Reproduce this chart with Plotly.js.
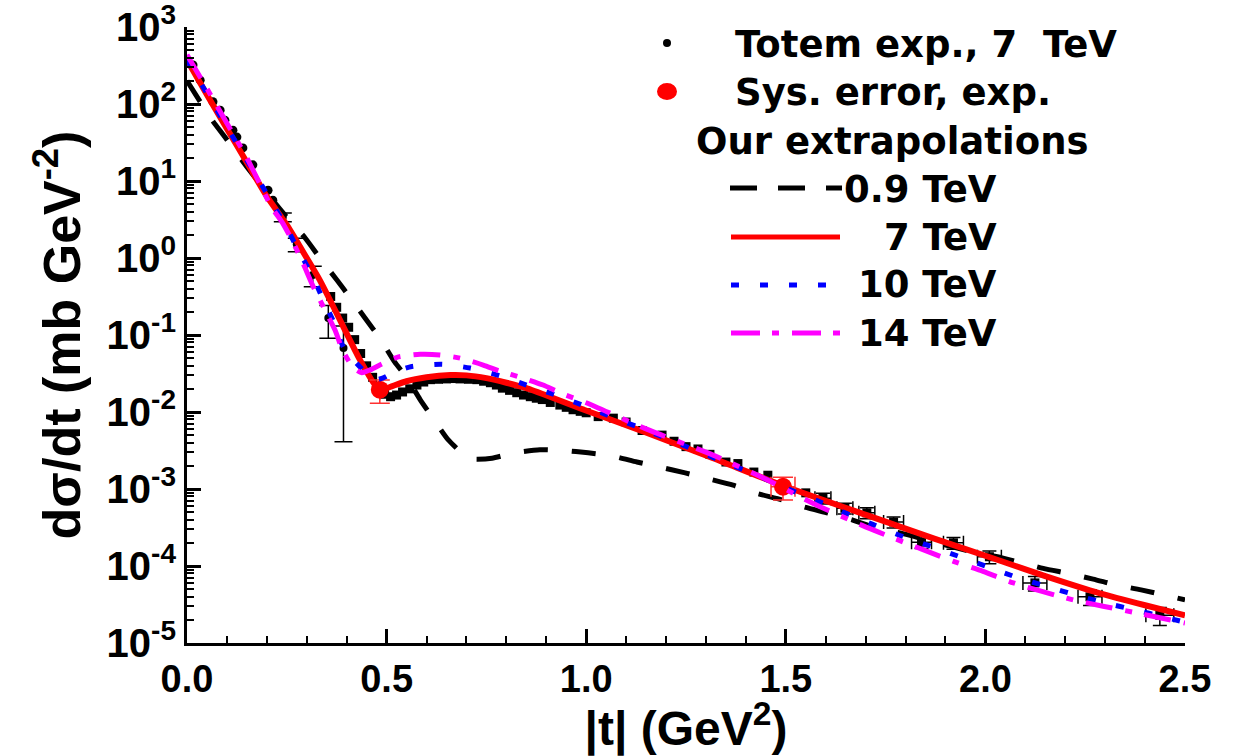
<!DOCTYPE html>
<html>
<head>
<meta charset="utf-8">
<script src="https://cdn.plot.ly/plotly-3.0.1.min.js"></script>
<style>html,body{margin:0;padding:0;background:#fff;}#chart{width:1253px;height:756px;}</style>
</head>
<body>
<div id="chart"></div>
<script>
// ---------- DATA ----------
// Curve "0.9 TeV" (black dashed)
const t09 = [0.0,0.063,0.095,0.133,0.17,0.215,0.25,0.296,0.333,0.376,0.408,0.45,0.483,0.52,0.55,0.584,0.616,0.654,0.70,0.72,0.764,0.82,0.884,0.943,1.005,1.065,1.127,1.18,1.248,1.30,1.368,1.423,1.49,1.543,1.61,1.666,1.73,1.786,1.97,2.03,2.09,2.145,2.21,2.27,2.33,2.39,2.45,2.5];
const y09 = [199.5,61.7,37.2,19.95,11.2,5.62,3.39,1.82,1.0,0.513,0.309,0.155,0.0912,0.0447,0.0282,0.0145,0.00832,0.00437,0.00263,0.00245,0.00251,0.00295,0.00324,0.00316,0.00295,0.00269,0.00224,0.00195,0.00162,0.00138,0.00112,8.91e-4,7.24e-4,5.89e-4,4.79e-4,3.98e-4,3.09e-4,2.69e-4,1.51e-4,1.32e-4,1.10e-4,9.33e-5,7.94e-5,6.76e-5,5.62e-5,4.90e-5,4.17e-5,3.63e-5];

// Curve "7 TeV" (red solid)
const t7 = [0.0,0.05,0.1,0.15,0.2,0.25,0.3,0.333,0.375,0.433,0.47,0.483,0.5,0.55,0.6,0.66,0.7,0.75,0.8,0.85,0.909,0.984,1.151,1.318,1.49,1.703,1.87,2.037,2.15,2.287,2.4,2.5];
const y7 = [371.5,131.8,47.9,17.4,6.31,2.69,1.0,0.513,0.191,0.0479,0.0229,0.0195,0.0204,0.0251,0.0282,0.0302,0.0299,0.0275,0.0240,0.0204,0.0158,0.0112,0.00537,0.00251,0.00112,4.57e-4,2.29e-4,1.17e-4,7.4e-5,4.42e-5,3.09e-5,2.29e-5];

// Curve "10 TeV" (blue dotted)
const t10 = [0.0,0.1,0.212,0.25,0.28,0.313,0.34,0.368,0.393,0.44,0.47,0.49,0.52,0.563,0.638,0.709,0.784,0.855,0.93,1.0,1.072,1.142,1.218,1.365,1.435,1.506,1.578,1.648,1.718,1.794,1.866,1.941,2.011,2.08,2.157,2.229,2.3,2.375,2.445,2.5];
const y10 = [371.5,50.1,5.37,2.45,1.23,0.603,0.295,0.145,0.0676,0.0355,0.0263,0.0275,0.0331,0.0389,0.0417,0.0372,0.0295,0.0219,0.0162,0.01175,0.00832,0.00603,0.00417,0.00204,0.00145,0.001,7.08e-4,4.90e-4,3.47e-4,2.40e-4,1.78e-4,1.29e-4,9.55e-5,7.08e-5,5.37e-5,4.17e-5,3.31e-5,2.69e-5,2.19e-5,1.86e-5];

// Curve "14 TeV" (magenta dash-dot)
const t14 = [0.0,0.05,0.1,0.15,0.212,0.24,0.263,0.29,0.316,0.346,0.371,0.39,0.416,0.438,0.46,0.483,0.526,0.584,0.634,0.684,0.742,0.784,0.842,0.892,0.934,1.0,1.15,1.318,1.453,1.535,1.586,1.69,1.761,1.92,1.994,2.07,2.22,2.37,2.5];
const y14 = [436.5,158.5,56.2,19.95,4.57,2.82,1.70,0.871,0.427,0.209,0.115,0.0631,0.038,0.0324,0.0355,0.0407,0.0513,0.0562,0.0550,0.0501,0.0407,0.0339,0.0275,0.0224,0.0178,0.0132,0.00603,0.00275,0.00132,7.94e-4,5.89e-4,3.39e-4,2.40e-4,1.15e-4,8.51e-5,6.03e-5,3.63e-5,2.51e-5,1.82e-5];

// TOTEM 7 TeV data, small |t| (dots)
const totLowT = [0.015,0.033,0.065,0.083,0.095,0.115,0.125,0.14,0.165,0.203,0.215];
const totLowY = [320.6,204,107,83.2,61.7,45.7,37.2,26.9,16.2,7.59,5.62];
// TOTEM points with error bars near |t| = 0.24 - 0.39
const totErrT = [0.24,0.275,0.315,0.354,0.392];
const totErrY = [3.4,1.51,0.603,0.166,0.0676];
const totErrE = [0.45,0.3,0.18,0.075,0.0635];
// TOTEM 7 TeV data, larger |t| (squares)
const totHighT = [0.36,0.375,0.39,0.405,0.42,0.435,0.45,0.465,0.48,0.495,0.51,0.525,0.54,0.558,0.576,0.593,0.61,0.63,0.65,0.667,0.684,0.705,0.726,0.743,0.76,0.775,0.79,0.808,0.826,0.843,0.86,0.875,0.89,0.91,0.934,0.95,0.967,0.985,1.0,1.03,1.068,1.10,1.14,1.19,1.22,1.25,1.28,1.31,1.35,1.38,1.42,1.455,1.55];
const totHighY = [0.316,0.229,0.166,0.126,0.0871,0.0575,0.0398,0.0282,0.0209,0.0170,0.0158,0.0166,0.0182,0.0200,0.0224,0.0245,0.0263,0.0266,0.0269,0.0272,0.0269,0.0266,0.0263,0.0251,0.0240,0.0224,0.0204,0.0191,0.0178,0.0166,0.0158,0.0151,0.0145,0.0133,0.0123,0.0115,0.0107,0.0102,0.00977,0.00871,0.00832,0.00741,0.00575,0.00501,0.00417,0.00355,0.00331,0.00282,0.00224,0.00214,0.00166,0.00151,8.91e-4];
// TOTEM tail points with error bars
const tailT = [1.593,1.648,1.703,1.77,1.84,1.92,2.01,2.124,2.262,2.437];
const tailY = [7.59e-4,5.62e-4,4.90e-4,3.72e-4,2.04e-4,2.00e-4,1.32e-4,6.03e-5,3.98e-5,2.29e-5];
const tailEy = [1.2e-4,0.9e-4,0.8e-4,0.6e-4,0.35e-4,0.35e-4,0.25e-4,0.13e-4,0.9e-5,0.6e-5];
const tailEx = [0.02,0.02,0.02,0.025,0.025,0.025,0.03,0.03,0.03,0.035];
// Systematic error points (red)
const sysT = [0.483,1.493];
const sysY = [0.0195,0.00107];
const sysEy = [0.0065,0.00035];
const sysEx = [0.0,0.03];

// Axis tick labels
const xTickVals = [0,0.5,1.0,1.5,2.0,2.5];
const xTickText = ['0.0','0.5','1.0','1.5','2.0','2.5'];
const yExponents = [-5,-4,-3,-2,-1,0,1,2,3];

// Legend texts
const legendTexts = ['Totem exp., 7\u00a0\u00a0TeV','Sys. error, exp.','Our extrapolations','0.9 TeV','7 TeV','10 TeV','14 TeV'];

// ---------- BUILD ----------
const yTickVals = yExponents.map(e => Math.pow(10, e));
const yTickText = yExponents.map(e => '10<sup>' + e + '</sup>');
const yMinor = [];
for (let e = -5; e < 3; e++) for (let k = 2; k <= 9; k++) yMinor.push(k * Math.pow(10, e));

const spl = {shape: 'spline', smoothing: 0.6};
const traces = [
  {x: totHighT, y: totHighY, mode: 'markers', marker: {symbol: 'square', size: 9, color: 'black'}},
  {x: totLowT, y: totLowY, mode: 'markers', marker: {symbol: 'circle', size: 9, color: 'black'}},
  {x: totErrT, y: totErrY, mode: 'markers', marker: {symbol: 'circle', size: 8, color: 'black'},
   error_y: {type: 'data', array: totErrE, color: 'black', thickness: 1.5, width: 9}},
  {x: tailT, y: tailY, mode: 'markers', marker: {symbol: 'square', size: 9, color: 'black'},
   error_y: {type: 'data', array: tailEy, color: 'black', thickness: 1.5, width: 7},
   error_x: {type: 'data', array: tailEx, color: 'black', thickness: 1.5, width: 7}},
  {x: t09, y: y09, mode: 'lines', line: Object.assign({color: 'black', width: 5, dash: '24px,24px'}, spl)},
  {x: t7, y: y7, mode: 'lines', line: Object.assign({color: '#ff0000', width: 6}, spl)},
  {x: sysT, y: sysY, mode: 'markers', marker: {symbol: 'circle', size: 18, color: '#ff0000'},
   error_y: {type: 'data', array: sysEy, color: '#ff3030', thickness: 1.5, width: 10},
   error_x: {type: 'data', array: sysEx, color: '#ff3030', thickness: 1.5, width: 10}},
  {x: t10, y: y10, mode: 'lines', line: Object.assign({color: '#0000ff', width: 5, dash: '8px,21px'}, spl)},
  {x: t14, y: y14, mode: 'lines', line: Object.assign({color: '#ff00ff', width: 5, dash: '27px,13px,7px,13px'}, spl)}
];

// pixel -> paper helpers for the hand-built legend
const L = 187, R = 68, T = 27, B = 113, W = 1253, H = 756;
const PW = W - L - R, PH = H - T - B;
const X = px => (px - L) / PW;
const Y = py => (H - B - py) / PH;

const legFont = {family: 'DejaVu Sans, Arial, sans-serif', size: 37, color: 'black', weight: 'bold'};
const shapes = [
  {type: 'circle', xref: 'paper', yref: 'paper', x0: X(663), x1: X(671), y0: Y(47), y1: Y(39), fillcolor: 'black', line: {width: 0}},
  {type: 'circle', xref: 'paper', yref: 'paper', x0: X(657), x1: X(677), y0: Y(100), y1: Y(83), fillcolor: '#ff0000', line: {width: 0}},
  {type: 'line', xref: 'paper', yref: 'paper', x0: X(730), x1: X(842), y0: Y(188), y1: Y(188), line: {color: 'black', width: 5, dash: '27px,21px'}},
  {type: 'line', xref: 'paper', yref: 'paper', x0: X(731), x1: X(840), y0: Y(237), y1: Y(237), line: {color: '#ff0000', width: 5}},
  {type: 'line', xref: 'paper', yref: 'paper', x0: X(731), x1: X(830), y0: Y(285), y1: Y(285), line: {color: '#0000ff', width: 5, dash: '8px,21px'}},
  {type: 'line', xref: 'paper', yref: 'paper', x0: X(731), x1: X(840), y0: Y(333), y1: Y(333), line: {color: '#ff00ff', width: 5, dash: '29px,12px,7px,13px'}}
];
const ann = (txt, px, py, anchor) => ({text: txt, xref: 'paper', yref: 'paper', x: X(px), y: Y(py), xanchor: anchor, yanchor: 'middle', showarrow: false, font: legFont, bgcolor: 'rgba(0,0,0,0)'});
const annotations = [
  ann(legendTexts[0], 733, 44, 'left'),
  ann(legendTexts[1], 733, 92, 'left'),
  ann(legendTexts[2], 694, 141, 'left'),
  ann(legendTexts[3], 999, 189, 'right'),
  ann(legendTexts[4], 999, 237, 'right'),
  ann(legendTexts[5], 999, 285, 'right'),
  ann(legendTexts[6], 999, 333, 'right')
];

const baseFam = 'Liberation Sans, Arial, sans-serif';
const layout = {
  width: W, height: H,
  margin: {l: L, r: R, t: T, b: B, pad: 0},
  paper_bgcolor: 'white', plot_bgcolor: 'white',
  showlegend: false,
  font: {family: baseFam, color: 'black'},
  xaxis: {
    range: [0, 2.5], tickmode: 'array', tickvals: xTickVals, ticktext: xTickText,
    ticks: 'inside', ticklen: 14, tickwidth: 3, tickcolor: 'black',
    showline: true, linewidth: 3, linecolor: 'black', showgrid: false, zeroline: false,
    ticklabeloverflow: 'allow',
    minor: {dtick: 0.1, tick0: 0, ticks: 'inside', ticklen: 7, tickwidth: 2, tickcolor: 'black', showgrid: false},
    tickfont: {family: baseFam, size: 38, color: 'black', weight: 'bold'},
    title: {text: '|t| (GeV<sup>2</sup>)', font: {family: baseFam, size: 48, color: 'black', weight: 'bold'}, standoff: 13}
  },
  yaxis: {
    type: 'log', range: [-5, 3], tickmode: 'array', tickvals: yTickVals, ticktext: yTickText,
    ticks: 'inside', ticklen: 14, tickwidth: 3, tickcolor: 'black',
    showline: true, linewidth: 3, linecolor: 'black', showgrid: false, zeroline: false,
    ticklabeloverflow: 'allow',
    minor: {tickmode: 'array', tickvals: yMinor, ticks: 'inside', ticklen: 7, tickwidth: 2, tickcolor: 'black', showgrid: false},
    tickfont: {family: baseFam, size: 40, color: 'black', weight: 'bold'},
    title: {text: 'd\u03c3/dt (mb GeV<sup>-2</sup>)', font: {family: baseFam, size: 52, color: 'black', weight: 'bold'}, standoff: 10}
  },
  shapes: shapes,
  annotations: annotations
};

Plotly.newPlot('chart', traces, layout, {staticPlot: true, displayModeBar: false});
</script>
</body>
</html>
